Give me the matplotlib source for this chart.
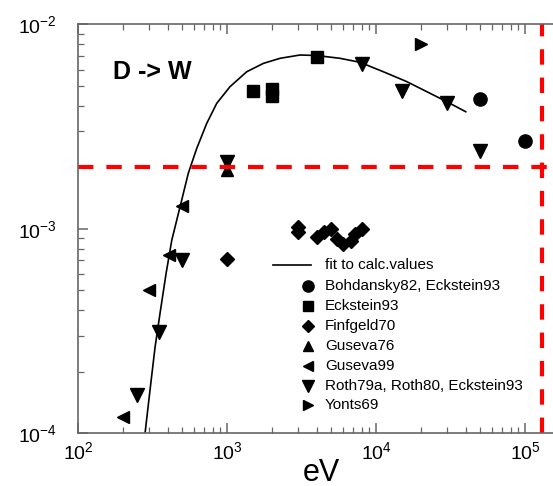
import matplotlib
matplotlib.use("Agg")
import matplotlib.pyplot as plt

plt.rcParams['font.family'] = ['Liberation Sans', 'DejaVu Sans']
plt.rcParams['mathtext.fontset'] = 'custom'
plt.rcParams['mathtext.rm'] = 'Liberation Sans'

# ============================
# data (energy in eV, sputtering yield)
# ============================
fit_E = [282, 304, 329, 355, 390, 426, 484, 550, 626, 731, 853, 1047, 1356,
         1753, 2270, 3090, 4000, 5730, 7810, 11200, 16100, 21900, 29800, 40000]
fit_Y = [1.0e-4, 1.61e-4, 2.63e-4, 3.84e-4, 6.03e-4, 8.79e-4, 1.28e-3, 1.87e-3,
         2.47e-3, 3.28e-3, 4.11e-3, 4.96e-3, 5.87e-3, 6.45e-3, 6.83e-3, 7.09e-3,
         7.05e-3, 6.83e-3, 6.53e-3, 5.87e-3, 5.25e-3, 4.69e-3, 4.19e-3, 3.74e-3]

bohdansky_E = [5e4, 1e5]
bohdansky_Y = [4.3e-3, 2.7e-3]

eckstein_E = [1.5e3, 2e3, 2e3, 4e3]
eckstein_Y = [4.7e-3, 4.85e-3, 4.45e-3, 6.95e-3]

finfgeld_E = [1e3, 3e3, 3e3, 4e3, 4.5e3, 5e3, 5.5e3, 6e3, 6.8e3, 7.2e3, 8e3]
finfgeld_Y = [7.1e-4, 1.02e-3, 9.6e-4, 9.1e-4, 9.6e-4, 1.0e-3, 8.9e-4, 8.4e-4,
              8.7e-4, 9.4e-4, 1.0e-3]

guseva76_E = [1e3]
guseva76_Y = [1.95e-3]

guseva99_E = [200, 300, 405, 500]
guseva99_Y = [1.2e-4, 5.0e-4, 7.45e-4, 1.29e-3]

roth_E = [250, 350, 500, 1e3, 8e3, 1.5e4, 3e4, 5e4]
roth_Y = [1.53e-4, 3.12e-4, 7.06e-4, 2.12e-3, 6.4e-3, 4.75e-3, 4.15e-3, 2.4e-3]

yonts_E = [2e4]
yonts_Y = [8.0e-3]

limit_Y = 2.0e-3
limit_E = 1.3e5

legend_labels = ["fit to calc.values", "Bohdansky82, Eckstein93", "Eckstein93",
                 "Finfgeld70", "Guseva76", "Guseva99",
                 "Roth79a, Roth80, Eckstein93", "Yonts69"]

# ============================
# figure
# ============================
fig = plt.figure(figsize=(5.53, 4.86), dpi=100)
ax = fig.add_axes([0.141, 0.109, 0.859, 0.8406])

ax.set_xscale('log')
ax.set_yscale('log')
ax.set_xlim(1e2, 1.54e5)
ax.set_ylim(1e-4, 1e-2)

ax.plot(fit_E, fit_Y, color='black', lw=1.2)

series = [
    (bohdansky_E, bohdansky_Y, 'o', 9.5),
    (eckstein_E, eckstein_Y, 's', 8),
    (finfgeld_E, finfgeld_Y, 'D', 7.5),
    (guseva76_E, guseva76_Y, '^', 9),
    (guseva99_E, guseva99_Y, '<', 9),
    (roth_E, roth_Y, 'v', 10),
    (yonts_E, yonts_Y, '>', 9),
]
for xs, ys, m, ms in series:
    ax.plot(xs, ys, ls='none', marker=m, ms=ms, color='black')

# red limit lines
ax.axhline(limit_Y, color='#ff0000', lw=3, dashes=(3.7, 3.1))
ax.axvline(limit_E, color='#ff0000', lw=3, dashes=(3.7, 3.1))

ax.text(0.074, 0.8825, "D -> W", transform=ax.transAxes, fontsize=18,
        fontweight='bold', va='center', ha='left')

# legend drawn by hand
rows = [0.411, 0.360, 0.311, 0.262, 0.213, 0.164, 0.115, 0.069]
ax.plot([0.41, 0.49], [rows[0], rows[0]], color='black', lw=1.2,
        transform=ax.transAxes, clip_on=False)
for i, (xs, ys, m, ms) in enumerate(series):
    ax.plot([0.484], [rows[i + 1]], marker=m, ms=ms * 0.85, color='black',
            transform=ax.transAxes, clip_on=False)
for lab, r in zip(legend_labels, rows):
    ax.text(0.52, r, lab, transform=ax.transAxes, fontsize=11, va='center')

# axes styling
for s in ['left', 'bottom', 'top']:
    ax.spines[s].set_color('#666666')
    ax.spines[s].set_linewidth(1.2)
ax.spines['right'].set_visible(False)
ax.tick_params(which='both', direction='in', top=True, right=False,
               color='#666666', labelsize=14)
ax.tick_params(which='major', length=7, width=1.1)
ax.tick_params(which='minor', length=4, width=0.9)
ax.tick_params(axis='x', which='major', pad=6)
ax.tick_params(axis='y', which='major', pad=15)

ax.set_xlabel("eV", fontsize=22)
ax.xaxis.set_label_coords(0.512, -0.06)

plt.savefig("out.png", dpi=100)
